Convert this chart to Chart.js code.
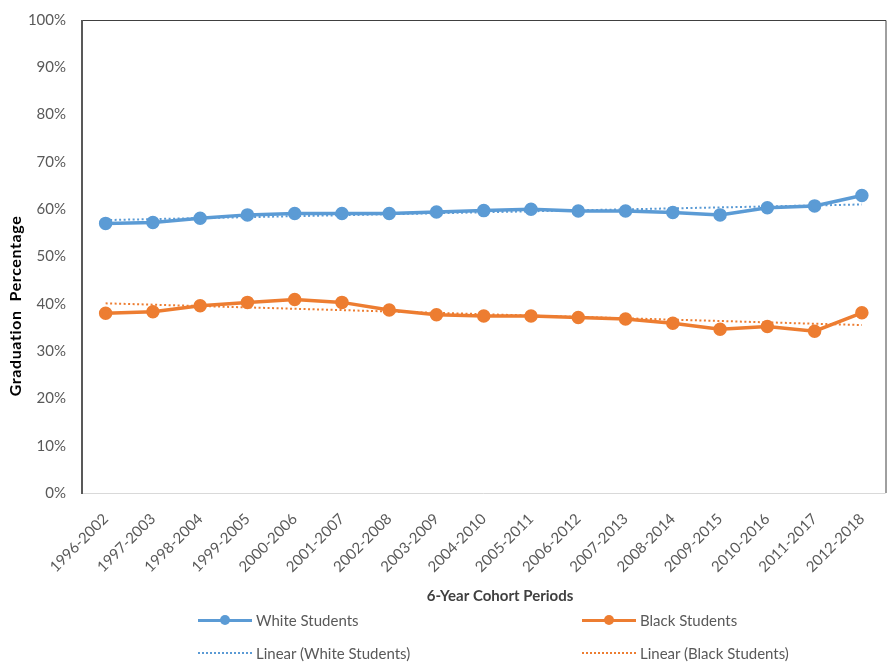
<!DOCTYPE html>
<html>
<head>
<meta charset="utf-8">
<title>Graduation Percentage by Cohort</title>
<script src="https://cdn.jsdelivr.net/npm/chart.js@4.4.1/dist/chart.umd.min.js"></script>
<style>
  body { margin: 0; background: #fff; font-family: Lato, 'Open Sans', sans-serif; }
  #wrap { position: relative; width: 894px; height: 663px; }
  .legend-item { position: absolute; display: flex; align-items: center; height: 16px;
                 font-size: 15px; color: #595959; white-space: nowrap; }
  .swatch { position: relative; width: 54px; height: 14px; margin-right: 4px; }
  .swatch .line { position: absolute; left: 0; right: 0; top: 5.5px; height: 3px; }
  .swatch .dot { position: absolute; left: 22px; top: 2px; width: 10px; height: 10px; border-radius: 50%; }
  .swatch .dots { position: absolute; left: 0; right: 0; top: 6px; height: 0; border-top: 2px dotted; }
</style>
</head>
<body>
<div id="wrap">
  <canvas id="chart"></canvas>
  <div class="legend-item" style="left:198px; top:612px">
    <div class="swatch"><div class="line" style="background:#5B9BD5"></div><div class="dot" style="background:#5B9BD5"></div></div>White Students
  </div>
  <div class="legend-item" style="left:582px; top:612px">
    <div class="swatch"><div class="line" style="background:#ED7D31"></div><div class="dot" style="background:#ED7D31"></div></div>Black Students
  </div>
  <div class="legend-item" style="left:198px; top:645px">
    <div class="swatch"><div class="dots" style="border-color:#5B9BD5"></div></div>Linear (White Students)
  </div>
  <div class="legend-item" style="left:582px; top:645px">
    <div class="swatch"><div class="dots" style="border-color:#ED7D31"></div></div>Linear (Black Students)
  </div>
</div>
<script>
const periods = [
  '1996-2002', '1997-2003', '1998-2004', '1999-2005', '2000-2006', '2001-2007',
  '2002-2008', '2003-2009', '2004-2010', '2005-2011', '2006-2012', '2007-2013',
  '2008-2014', '2009-2015', '2010-2016', '2011-2017', '2012-2018',
];

const whiteRates = [57.0, 57.2, 58.1, 58.8, 59.1, 59.1, 59.1, 59.4, 59.7, 60.0, 59.6, 59.6, 59.3, 58.8, 60.3, 60.7, 62.9];
const blackRates = [38.0, 38.3, 39.6, 40.3, 40.9, 40.3, 38.7, 37.7, 37.4, 37.4, 37.1, 36.8, 35.9, 34.6, 35.2, 34.2, 38.1];

// linear trend endpoints (first and last cohort)
const whiteTrend = [57.7, 61.0];
const blackTrend = [40.1, 35.5];

const yTicks = [0, 10, 20, 30, 40, 50, 60, 70, 80, 90, 100];

const BLUE = '#5B9BD5';
const ORANGE = '#ED7D31';
const FONT = 'Lato, "Open Sans", sans-serif';

const trendPoints = ends => [
  { x: periods[0], y: ends[0] },
  { x: periods[periods.length - 1], y: ends[1] },
];

// plot box + axis titles
const frame = {
  id: 'frame',
  beforeDatasetsDraw(chart) {
    const { ctx, chartArea: a } = chart;
    ctx.save();
    ctx.strokeStyle = '#404040';
    ctx.lineWidth = 1;
    ctx.beginPath();
    ctx.moveTo(a.left, a.top + 0.5);
    ctx.lineTo(a.right + 0.5, a.top + 0.5);
    ctx.lineTo(a.right + 0.5, a.bottom);
    ctx.stroke();
    ctx.strokeStyle = '#D9D9D9';
    ctx.beginPath();
    ctx.moveTo(a.left, a.bottom + 0.5);
    ctx.lineTo(a.right, a.bottom + 0.5);
    ctx.stroke();
    ctx.strokeStyle = '#595959';
    ctx.lineWidth = 2;
    ctx.beginPath();
    ctx.moveTo(a.left, a.top);
    ctx.lineTo(a.left, a.bottom + 1);
    ctx.stroke();
    ctx.restore();
  },
  afterDraw(chart) {
    const { ctx } = chart;
    ctx.save();
    ctx.textAlign = 'center';
    ctx.textBaseline = 'middle';
    ctx.fillStyle = '#000';
    ctx.font = `bold 16px ${FONT}`;
    ctx.letterSpacing = '0.6px';
    ctx.translate(16, 306);
    ctx.rotate(-Math.PI / 2);
    ctx.fillText('Graduation  Percentage', 0, 0);
    ctx.restore();

    ctx.save();
    ctx.textAlign = 'center';
    ctx.textBaseline = 'middle';
    ctx.fillStyle = '#404040';
    ctx.font = `bold 15px ${FONT}`;
    ctx.fillText('6-Year Cohort Periods', 500, 596);
    ctx.restore();
  },
};

new Chart(document.getElementById('chart'), {
  type: 'line',
  data: {
    labels: periods,
    datasets: [
      {
        label: 'White Students',
        data: whiteRates,
        borderColor: BLUE,
        backgroundColor: BLUE,
        borderWidth: 3.5,
        pointRadius: 5,
        pointHoverRadius: 5,
        tension: 0,
      },
      {
        label: 'Black Students',
        data: blackRates,
        borderColor: ORANGE,
        backgroundColor: ORANGE,
        borderWidth: 3.5,
        pointRadius: 5,
        pointHoverRadius: 5,
        tension: 0,
      },
      {
        label: 'Linear (White Students)',
        data: trendPoints(whiteTrend),
        borderColor: BLUE,
        borderWidth: 2,
        borderDash: [2, 2.5],
        pointRadius: 0,
      },
      {
        label: 'Linear (Black Students)',
        data: trendPoints(blackTrend),
        borderColor: ORANGE,
        borderWidth: 2,
        borderDash: [2, 2.5],
        pointRadius: 0,
      },
    ],
  },
  options: {
    responsive: true, maintainAspectRatio: false,
    animation: false,
    layout: { padding: { top: 20, right: 3, bottom: 0, left: 0 } },
    plugins: { legend: { display: false }, tooltip: { enabled: false } },
    scales: {
      x: {
        offset: true,
        grid: { display: false, drawTicks: false },
        border: { display: false },
        ticks: {
          color: '#595959', font: { family: FONT, size: 15 },
          minRotation: 45, maxRotation: 45, autoSkip: false, padding: 17,
        },
        afterFit: s => { s.height = 170; },
      },
      y: {
        min: 0, max: 100,
        grid: { display: false, drawTicks: false },
        border: { display: false },
        afterBuildTicks: s => { s.ticks = yTicks.map(v => ({ value: v })); },
        ticks: {
          color: '#595959', font: { family: FONT, size: 15 }, padding: 16,
          callback: v => v + '%',
        },
        // label gap should not push the plot top down
        afterFit: s => { s.width = 82; s.paddingTop = 9; s.paddingBottom = 9; },
      },
    },
  },
  plugins: [frame],
});
</script>
</body>
</html>
